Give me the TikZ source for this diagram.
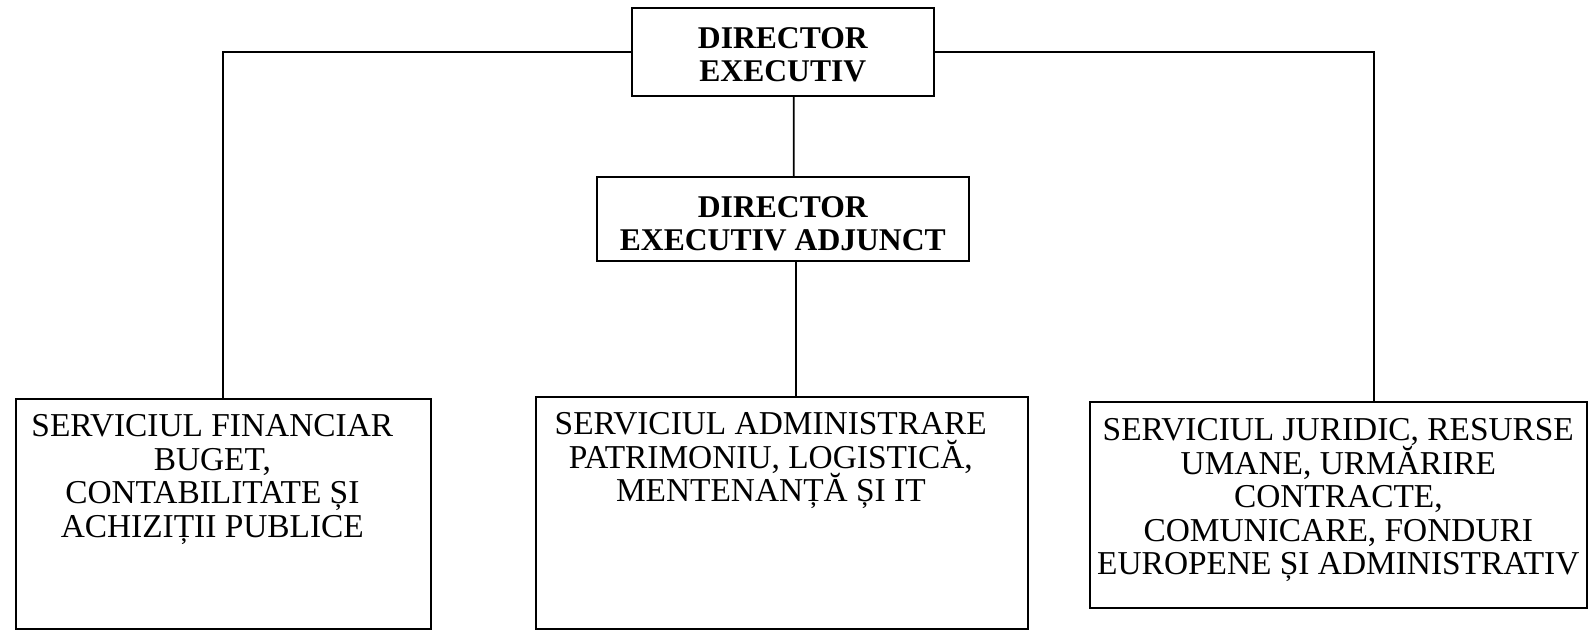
\documentclass[tikz,border=0pt]{standalone}
\usepackage{fontspec}
\setmainfont{Liberation Serif}
\begin{document}
\begin{tikzpicture}[x=0.02cm,y=-0.02cm,
        box/.style={draw,line width=1pt,inner sep=0pt,anchor=north west,
            font={\fontsize{19}{19}\selectfont}},
        head/.style={box,font={\fontsize{18}{18.8}\selectfont\bfseries}},
        link/.style={line width=1pt}]
        \useasboundingbox (0,0) rectangle (1589,631);

        % conducere
        \node[head] at (631,7) (dirx) {\parbox[c][1.76cm][t]{6.04cm}{\centering\vspace*{0.4cm}%
            DIRECTOR\\EXECUTIV}};
        \node[head] at (596,176) (adj) {\parbox[c][1.68cm][t]{7.44cm}{\centering\vspace*{0.4cm}%
            DIRECTOR\\EXECUTIV ADJUNCT}};

        % servicii
        \node[box] at (15,398) (fin) {\parbox[c][4.6cm][t]{8.3cm}{\centering\rightskip=0.44cm plus 1fil
            \vspace*{0.32cm}%
            SERVICIUL FINANCIAR\\BUGET,\\CONTABILITATE ȘI\\ACHIZIȚII PUBLICE}};
        \node[box] at (535,396) (adm) {\parbox[c][4.64cm][t]{9.84cm}{\centering\rightskip=0.44cm plus 1fil
            \vspace*{0.32cm}%
            SERVICIUL ADMINISTRARE\\PATRIMONIU, LOGISTICĂ,\\MENTENANȚĂ ȘI IT}};
        \node[box] at (1089,401) (jur) {\parbox[c][4.12cm][t]{9.94cm}{\centering\vspace*{0.34cm}%
            SERVICIUL JURIDIC, RESURSE\\UMANE, URMĂRIRE\\CONTRACTE,\\COMUNICARE, FONDURI\\EUROPENE ȘI ADMINISTRATIV}};

        \draw[link] (dirx.west) -| (fin.north);
        \draw[link] (dirx.east) -| ([xshift=0.72cm]jur.north);
        \draw[link] ([xshift=0.22cm]dirx.south) -- ([xshift=0.22cm]adj.north);
        \draw[link] ([xshift=0.26cm]adj.south) -- ([xshift=0.26cm]adj.south |- adm.north);
    \end{tikzpicture}
\end{document}
